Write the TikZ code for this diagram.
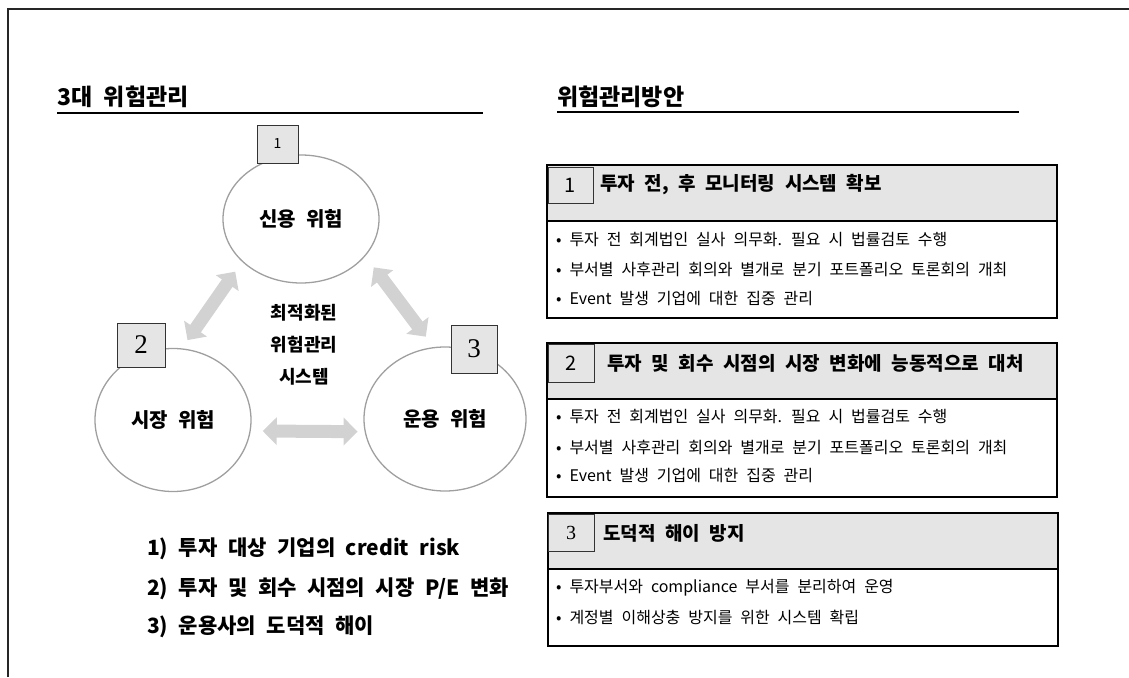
\documentclass[tikz,border=0pt]{standalone}
\usepackage{fontspec}
\setmainfont{Noto Sans CJK KR}[WordSpace=2.2]
\newfontfamily\numserif{Liberation Serif}
\usetikzlibrary{arrows.meta, shapes.geometric}

\begin{document}
\begin{tikzpicture}[x=1pt, y=-1pt,
		risk/.style={ellipse, draw=gray!75, line width=1.3pt, inner sep=0pt, font=\fontsize{20pt}{24pt}\selectfont\bfseries},
		numbox/.style={rectangle, draw=black!80, fill=gray!20, line width=0.8pt, inner sep=0pt},
		flow/.style={draw=gray!35, line width=13pt, {Triangle[width=27pt,length=14pt]}-{Triangle[width=27pt,length=14pt]}},
		title/.style={anchor=base west, inner sep=0pt, font=\fontsize{23pt}{26pt}\selectfont\bfseries},
		head/.style={anchor=west, inner sep=0pt, font=\fontsize{19pt}{22pt}\selectfont\bfseries},
		item/.style={anchor=west, inner sep=0pt, font=\fontsize{16pt}{18pt}\selectfont},
		cause/.style={anchor=west, inner sep=0pt, font=\fontsize{21pt}{24pt}\selectfont\bfseries},
		band/.style={fill=gray!20},
		frame/.style={draw=black, line width=1.6pt}]
	\useasboundingbox (0,0) rectangle (1129,677);
	\draw[line width=1.5pt, black!85] (8,677) -- (8,9) -- (1129,9);
	% Titles
	\node[title] (ttlrisk) at (57,105) {3대 위험관리};
	\node[title] (ttlplan) at (557,105) {위험관리방안};
	\draw[line width=1.6pt] (57,113) -- (483,113);
	\draw[line width=1.6pt] (557,112) -- (1019,112);
	% Nodes
	\node[risk, minimum width=156pt, minimum height=128pt] (credit) at (301,219) {신용 위험};
	\node[risk, minimum width=156pt, minimum height=143pt] (market) at (173,420) {시장 위험};
	\node[risk, minimum width=162pt, minimum height=144pt] (ops) at (445,419) {운용 위험};
	\node[numbox, minimum width=41pt, minimum height=38pt, font=\fontsize{14pt}{16pt}\selectfont] (k1) at (277.5,144) {1};
	\node[numbox, minimum width=48pt, minimum height=44pt, font=\fontsize{27pt}{30pt}\numserif] (k2) at (141,345) {2};
	\node[numbox, minimum width=46pt, minimum height=48pt, font=\fontsize{27pt}{30pt}\numserif] (k3) at (474,349) {3};
	\node[align=center, font=\fontsize{18pt}{32pt}\selectfont\bfseries] (core) at (304,345) {최적화된\\위험관리\\시스템};
	% Edges
	\draw[flow, shorten <=10pt, shorten >=12pt] (market.83) -- (credit.216);
	\draw[flow, shorten <=14pt, shorten >=13pt] (credit.330) -- (ops.99);
	\draw[flow, shorten <=12pt, shorten >=7pt] (market.352) -- (ops.189);
	% Causes
	\node[cause] (c1) at (147,549) {1) 투자 대상 기업의 credit risk};
	\node[cause] (c2) at (147,589) {2) 투자 및 회수 시점의 시장 P/E 변화};
	\node[cause] (c3) at (147,627) {3) 운용사의 도덕적 해이};
	% Plan 1
	\fill[band] (547,165) rectangle (1057,221);
	\draw[line width=1.2pt] (547,221) -- (1057,221);
	\draw[frame] (547,165) rectangle (1057,318);
	\node[numbox, minimum width=45pt, minimum height=36pt, font=\fontsize{20pt}{22pt}\selectfont] (n1) at (570.5,185) {1};
	\node[head] (h1) at (600,185) {투자 전, 후 모니터링 시스템 확보};
	\node[item] (p11) at (556,240) {• 투자 전 회계법인 실사 의무화. 필요 시 법률검토 수행};
	\node[item] (p12) at (556,269) {• 부서별 사후관리 회의와 별개로 분기 포트폴리오 토론회의 개최};
	\node[item] (p13) at (556,299) {• Event 발생 기업에 대한 집중 관리};
	% Plan 2
	\fill[band] (547,343) rectangle (1057,399);
	\draw[line width=1.2pt] (547,399) -- (1057,399);
	\draw[frame] (547,343) rectangle (1057,497);
	\node[numbox, minimum width=46pt, minimum height=38pt, font=\fontsize{20pt}{22pt}\selectfont] (n2) at (571,363) {2};
	\node[head] (h2) at (607,363) {투자 및 회수 시점의 시장 변화에 능동적으로 대처};
	\node[item] (p21) at (556,417) {• 투자 전 회계법인 실사 의무화. 필요 시 법률검토 수행};
	\node[item] (p22) at (556,447) {• 부서별 사후관리 회의와 별개로 분기 포트폴리오 토론회의 개최};
	\node[item] (p23) at (556,476) {• Event 발생 기업에 대한 집중 관리};
	% Plan 3
	\fill[band] (548,513) rectangle (1058,569);
	\draw[line width=1.2pt] (548,569) -- (1058,569);
	\draw[frame] (548,513) rectangle (1058,646);
	\node[numbox, minimum width=46pt, minimum height=37pt, font=\fontsize{20pt}{22pt}\numserif] (n3) at (571,532.5) {3};
	\node[head] (h3) at (603,533) {도덕적 해이 방지};
	\node[item] (p31) at (556,588) {• 투자부서와 compliance 부서를 분리하여 운영};
	\node[item] (p32) at (556,617) {• 계정별 이해상충 방지를 위한 시스템 확립};
\end{tikzpicture}
\end{document}
